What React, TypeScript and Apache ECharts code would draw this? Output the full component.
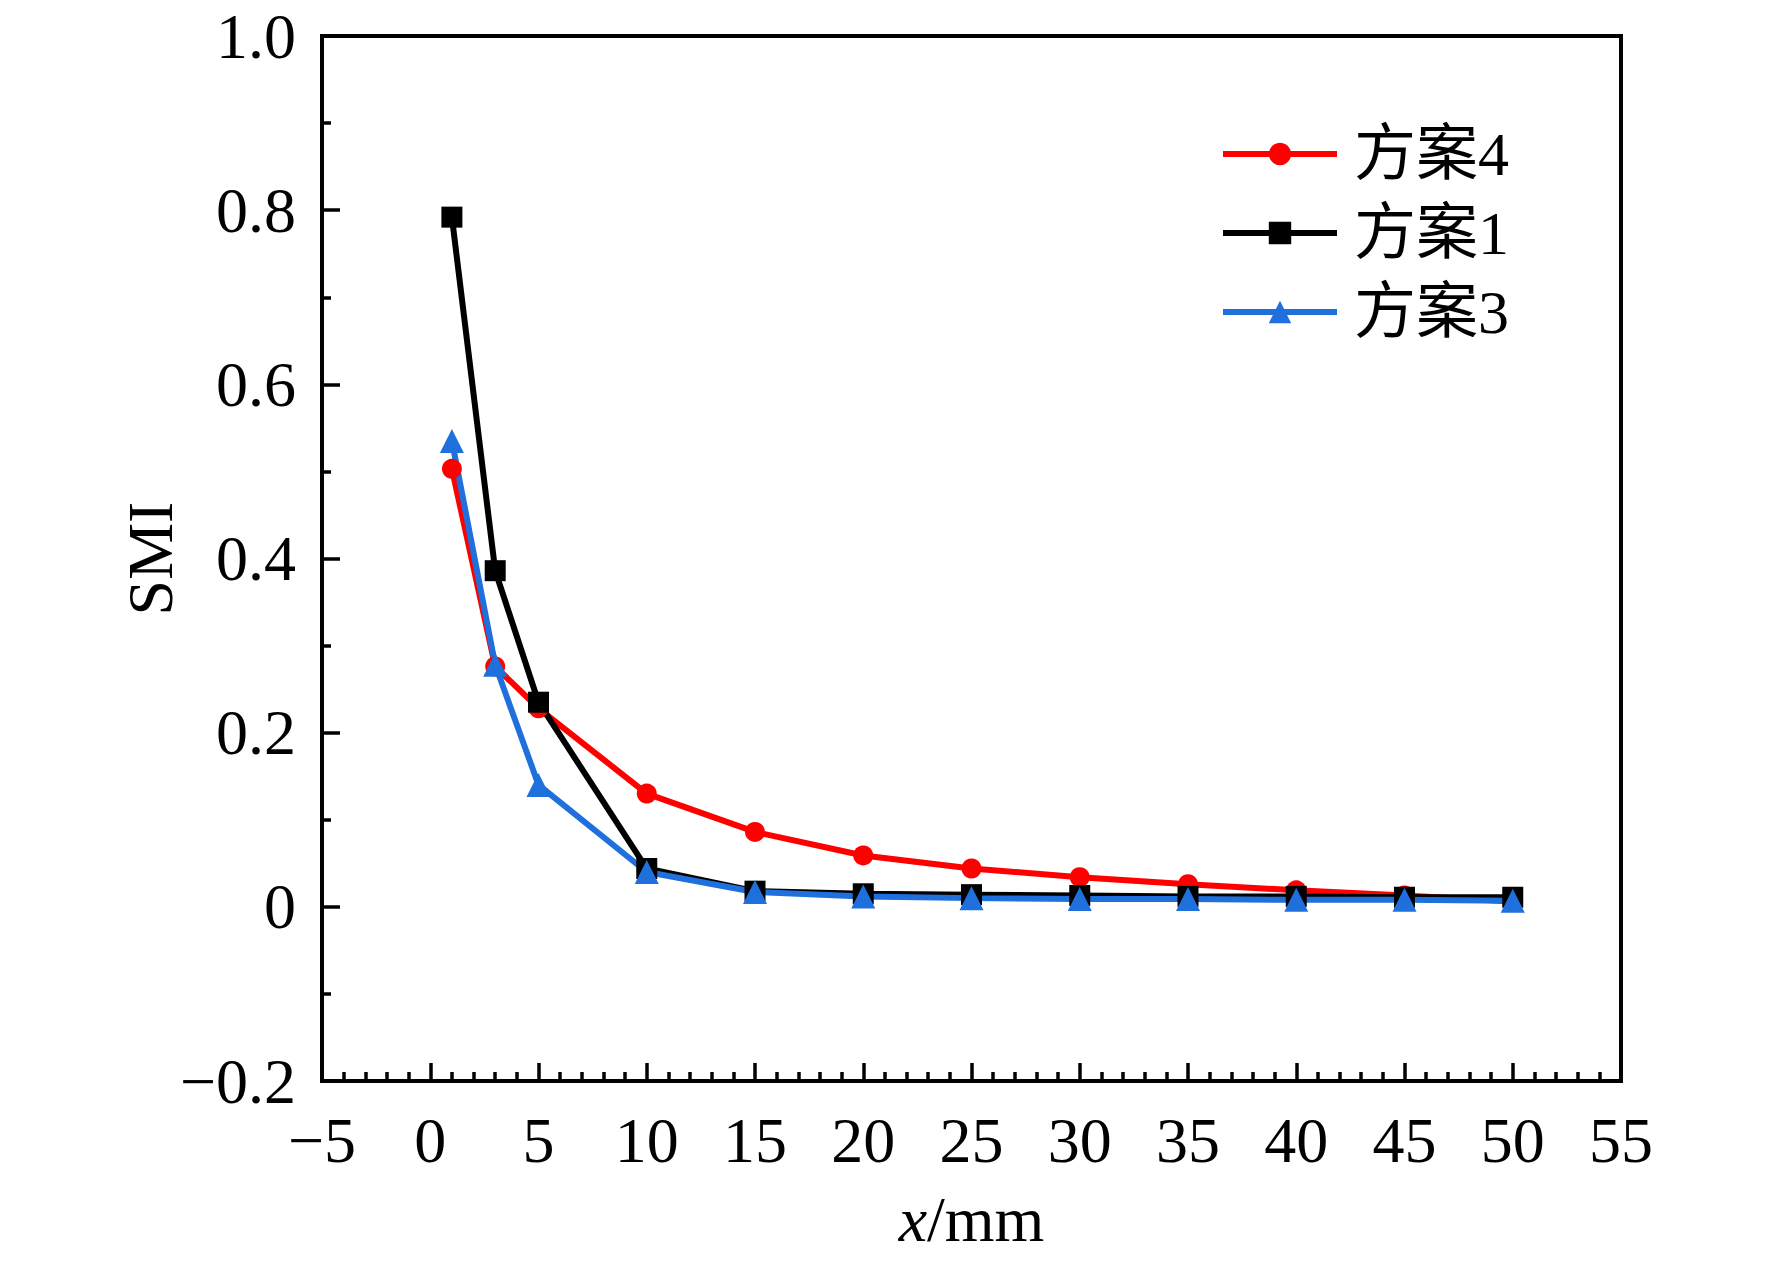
import React, { useEffect, useRef } from "react";
import * as echarts from "echarts";

// x positions (mm) and SMI values
const xValues = [1, 3, 5, 10, 15, 20, 25, 30, 35, 40, 45, 50];
const plan4 = [0.503, 0.276, 0.228, 0.13, 0.086, 0.059, 0.044, 0.034, 0.026, 0.019, 0.013, 0.006];
const plan1 = [0.792, 0.386, 0.235, 0.044, 0.018, 0.015, 0.014, 0.013, 0.012, 0.012, 0.011, 0.011];
const plan3 = [0.535, 0.278, 0.14, 0.04, 0.017, 0.012, 0.01, 0.009, 0.009, 0.008, 0.008, 0.007];
const seriesNames = ["方案4", "方案1", "方案3"];
const seriesColors = ["#ff0000", "#000000", "#1f6fdc"];
const seriesSymbols = ["circle", "rect", "triangle"];
const symbolSizes = [20, 21, 24];

const FONT = "'Liberation Serif', 'Times New Roman', 'Noto Sans CJK SC', serif";

// use a real minus sign like the original
const fmt = (v: number, digits: number) => {
  if (Math.abs(v) < 1e-9) return "0";
  const s = Math.abs(v).toFixed(digits);
  return v < 0 ? "\u2212" + s : s;
};

const App: React.FC = () => {
  const chartRef = useRef<HTMLDivElement>(null);

  useEffect(() => {
    if (!chartRef.current) return;
    const chart = echarts.init(chartRef.current, undefined, { renderer: "svg" });

    const allData = [plan4, plan1, plan3];

    const axisCommon = {
      axisLine: { onZero: false, lineStyle: { color: "#000", width: 4 } },
      axisTick: { inside: true, length: 18, lineStyle: { color: "#000", width: 3.5 } },
      minorTick: { show: true, length: 9, lineStyle: { color: "#000", width: 3.5 } },
      splitLine: { show: false },
    };

    chart.setOption({
      animation: false,
      backgroundColor: "#fff",
      grid: {
        left: 322,
        top: 36,
        right: 151,
        bottom: 180,
        show: true,
        borderColor: "#000",
        borderWidth: 4,
      },
      legend: {
        orient: "vertical",
        left: 1215,
        top: 117,
        itemWidth: 114,
        itemHeight: 28,
        itemGap: 15,
        data: seriesNames,
        lineStyle: { width: 6 },
        textStyle: {
          fontFamily: FONT,
          fontSize: 62,
          lineHeight: 64,
          color: "#000",
          padding: [0, 0, 0, 12],
        },
      },
      xAxis: {
        type: "value",
        min: -5,
        max: 55,
        interval: 5,
        ...axisCommon,
        minorTick: { ...axisCommon.minorTick, splitNumber: 5 },
        axisLabel: {
          margin: 27,
          fontFamily: FONT,
          fontSize: 64,
          color: "#000",
          formatter: (v: number) => fmt(v, 0),
        },
        name: "{i|x}/mm",
        nameLocation: "middle",
        nameGap: 106,
        nameMoveOverlap: false,
        nameTextStyle: {
          fontFamily: FONT,
          fontSize: 64,
          color: "#000",
          rich: {
            i: { fontFamily: FONT, fontSize: 64, fontStyle: "italic", color: "#000" },
          },
        },
      },
      yAxis: {
        type: "value",
        min: -0.2,
        max: 1.0,
        interval: 0.2,
        ...axisCommon,
        minorTick: { ...axisCommon.minorTick, splitNumber: 2 },
        axisLabel: {
          margin: 26,
          fontFamily: FONT,
          fontSize: 64,
          color: "#000",
          formatter: (v: number) => fmt(v, 1),
        },
        name: "SMI",
        nameLocation: "middle",
        nameGap: 140,
        nameMoveOverlap: false,
        nameTextStyle: { fontFamily: FONT, fontSize: 64, color: "#000" },
      },
      series: seriesNames.map((name, k) => ({
        name,
        type: "line",
        symbol: seriesSymbols[k],
        symbolSize: symbolSizes[k],
        lineStyle: { width: 6, color: seriesColors[k] },
        itemStyle: { color: seriesColors[k] },
        data: xValues.map((x, i) => [x, allData[k][i]]),
      })),
    });

    return () => {
      chart.dispose();
    };
  }, []);

  return (
    <div
      ref={chartRef}
      style={{ position: "absolute", left: 0, top: 0, width: "1772px", height: "1261px" }}
    ></div>
  );
};

export default App;
